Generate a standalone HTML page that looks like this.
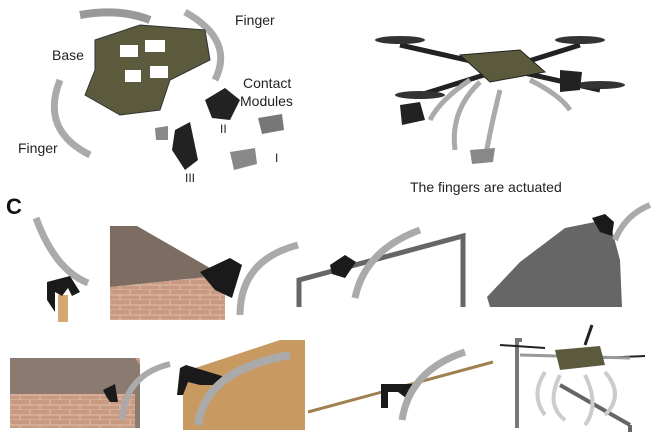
<!DOCTYPE html>
<html><head><meta charset="utf-8"><style>
body{margin:0;background:#fff;width:660px;height:440px;overflow:hidden;font-family:"Liberation Sans",sans-serif}
</style></head><body>
<svg width="660" height="440" viewBox="0 0 660 440" xmlns="http://www.w3.org/2000/svg">
<defs>
<pattern id="brick" width="20" height="10" patternUnits="userSpaceOnUse">
<rect width="20" height="10" fill="#c99a82"/><path d="M0 10H20M0 5H20M10 0V5M0 5V10M20 5V10" stroke="#e0bca8" stroke-width="1"/>
</pattern>
</defs>
<!-- Top-left exploded view -->
<path d="M80 15 Q120 8 150 20" stroke="#999" stroke-width="8" fill="none"/>
<path d="M185 12 Q235 40 215 80" stroke="#aaa" stroke-width="7" fill="none"/>
<path d="M60 80 Q40 130 90 155" stroke="#aaa" stroke-width="7" fill="none"/>
<polygon points="95,40 140,25 205,30 210,60 170,80 160,110 120,115 85,95 95,70" fill="#5b5a3c" stroke="#333"/>
<rect x="120" y="45" width="18" height="12" fill="#fff"/><rect x="145" y="40" width="20" height="12" fill="#fff"/><rect x="125" y="70" width="16" height="12" fill="#fff"/><rect x="150" y="66" width="18" height="12" fill="#fff"/>
<polygon points="205,100 225,88 240,100 230,120 212,118" fill="#222"/>
<polygon points="175,130 190,122 198,160 185,170 172,150" fill="#222"/>
<polygon points="258,118 282,114 284,130 262,134" fill="#777"/>
<polygon points="230,152 255,148 257,164 234,170" fill="#888"/>
<polygon points="155,128 168,126 168,140 156,140" fill="#888"/>
<text x="235" y="25" font-size="14" fill="#222">Finger</text>
<text x="52" y="60" font-size="14" fill="#222">Base</text>
<text x="243" y="88" font-size="14" fill="#222">Contact</text>
<text x="240" y="106" font-size="14" fill="#222">Modules</text>
<text x="18" y="153" font-size="14" fill="#222">Finger</text>
<text x="220" y="133" font-size="12" fill="#222">II</text>
<text x="275" y="162" font-size="12" fill="#222">I</text>
<text x="185" y="182" font-size="12" fill="#222">III</text>
<!-- Drone top-right -->
<g stroke="#222" stroke-width="5">
<line x1="400" y1="45" x2="600" y2="90"/><line x1="420" y1="95" x2="580" y2="45"/>
</g>
<ellipse cx="400" cy="40" rx="25" ry="4" fill="#333"/><ellipse cx="580" cy="40" rx="25" ry="4" fill="#333"/>
<ellipse cx="420" cy="95" rx="25" ry="4" fill="#333"/><ellipse cx="600" cy="85" rx="25" ry="4" fill="#333"/>
<polygon points="460,55 520,50 545,72 490,82" fill="#5b5a3c" stroke="#222"/>
<g stroke="#aaa" stroke-width="5" fill="none">
<path d="M470 80 Q440 100 430 120"/><path d="M530 80 Q560 95 570 110"/><path d="M500 90 Q490 130 485 160"/><path d="M480 82 Q450 110 455 150"/>
</g>
<polygon points="400,105 420,102 425,120 402,125" fill="#222"/>
<polygon points="560,70 582,72 580,90 560,92" fill="#222"/>
<polygon points="470,150 495,148 493,162 472,164" fill="#888"/>
<text x="410" y="192" font-size="14" fill="#222">The fingers are actuated</text>
<text x="6" y="214" font-size="22" font-weight="bold" fill="#111">C</text>
<!-- Row 1 -->
<path d="M36 218 Q55 270 88 283" stroke="#aaa" stroke-width="7" fill="none"/>
<rect x="58" y="295" width="10" height="27" fill="#d4a870"/>
<polygon points="47,282 70,276 80,292 72,296 68,288 62,296 55,292 55,312 47,300" fill="#1a1a1a"/>
<polygon points="110,287 225,275 225,320 110,320" fill="url(#brick)"/>
<polygon points="110,226 137,226 210,268 225,275 110,287" fill="#7c6c62"/>
<polygon points="200,272 230,258 242,265 232,298 215,290" fill="#1a1a1a"/>
<path d="M240 315 Q240 260 298 245" stroke="#aaa" stroke-width="7" fill="none"/>
<path d="M299 307 V280 L463 236 V307" stroke="#666" stroke-width="5" fill="none"/>
<path d="M355 298 Q365 250 420 230" stroke="#aaa" stroke-width="7" fill="none"/>
<polygon points="330,265 345,255 356,262 345,278 332,274" fill="#1a1a1a"/>
<polygon points="487,297 520,262 565,228 595,222 612,230 620,260 622,307 490,307" fill="#666"/>
<polygon points="592,218 605,214 614,222 612,236 600,232" fill="#1a1a1a"/>
<path d="M615 240 Q625 215 650 205" stroke="#aaa" stroke-width="6" fill="none"/>
<!-- Row 2 -->
<rect x="10" y="358" width="130" height="70" fill="url(#brick)"/>
<polygon points="10,358 135,358 140,365 140,428 135,428 135,394 10,394" fill="#8a7a70"/>
<polygon points="103,390 115,384 118,402 110,402 106,396" fill="#1a1a1a"/>
<path d="M122 420 Q125 375 170 364" stroke="#aaa" stroke-width="6" fill="none"/>
<polygon points="183,430 183,372 280,340 305,340 305,430" fill="#c89a62"/>
<polygon points="180,368 186,365 222,376 225,385 200,385 188,382 183,395 177,395" fill="#1a1a1a"/>
<path d="M198 425 Q205 370 290 355" stroke="#aaa" stroke-width="8" fill="none"/>
<line x1="308" y1="412" x2="493" y2="362" stroke="#a08050" stroke-width="3"/>
<polygon points="381,384 412,384 412,398 406,398 398,392 388,392 388,408 381,408" fill="#1a1a1a"/>
<path d="M402 420 Q410 370 465 352" stroke="#aaa" stroke-width="7" fill="none"/>
<path d="M517 428 V340 H522" stroke="#777" stroke-width="4" fill="none"/>
<line x1="560" y1="385" x2="630" y2="425" stroke="#666" stroke-width="4"/>
<line x1="630" y1="425" x2="630" y2="432" stroke="#666" stroke-width="4"/>
<line x1="500" y1="345" x2="545" y2="348" stroke="#222" stroke-width="2"/>
<line x1="600" y1="358" x2="645" y2="356" stroke="#222" stroke-width="2"/>
<line x1="585" y1="345" x2="592" y2="325" stroke="#222" stroke-width="3"/>
<line x1="520" y1="355" x2="630" y2="358" stroke="#999" stroke-width="3"/>
<polygon points="555,350 600,346 605,365 560,370" fill="#5b5a3c"/>
<g stroke="#ccc" stroke-width="4" fill="none">
<path d="M545 372 Q530 395 545 415"/><path d="M560 375 Q545 405 565 420"/><path d="M605 372 Q625 395 605 415"/><path d="M585 375 Q600 405 585 425"/>
</g>
</svg>
</body></html>
